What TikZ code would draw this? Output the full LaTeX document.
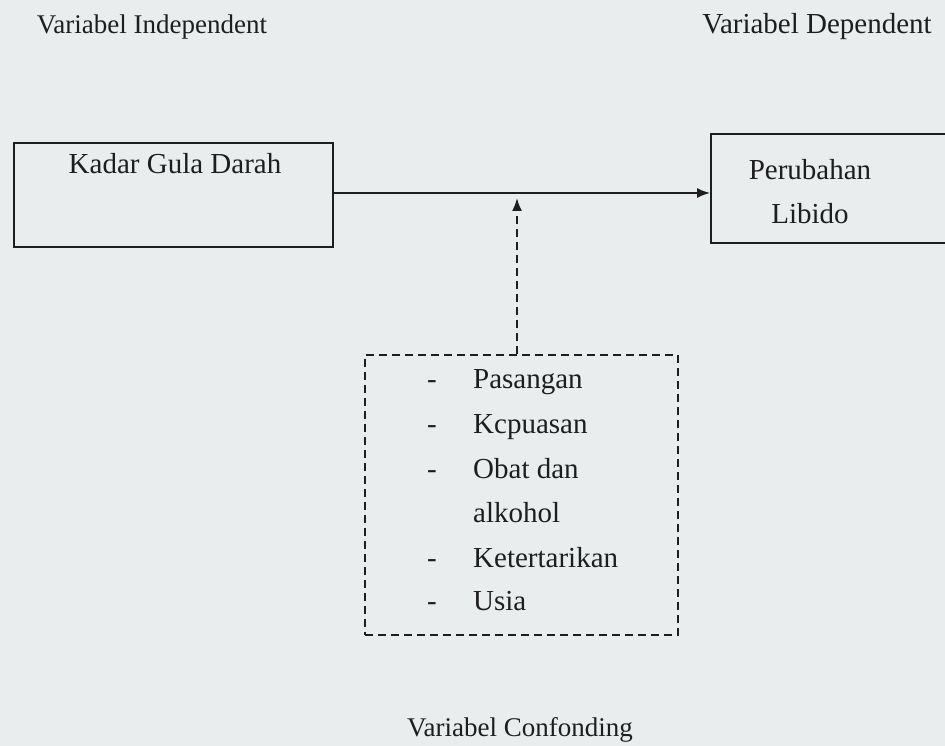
\documentclass[tikz,border=0pt]{standalone}
\usepackage{fontspec}
\setmainfont{Liberation Serif}
\usetikzlibrary{arrows.meta}
\definecolor{bgc}{RGB}{233,237,238}
\definecolor{ink}{RGB}{30,30,30}
\tikzset{
  lbl/.style={font=\fontsize{27}{32}\selectfont, text=ink, inner sep=0pt},
  txt/.style={font=\fontsize{29}{34}\selectfont, text=ink, inner sep=0pt},
  item/.style={txt, anchor=base west},
  dsh/.style={txt, anchor=base},
  solidbox/.style={draw=ink, line width=1.8pt, inner sep=0pt},
  dashbox/.style={draw=ink, line width=1.8pt, dash pattern=on 8pt off 5pt, inner sep=0pt},
  arr/.style={draw=ink, line width=1.8pt, -{Latex[length=13pt,width=10pt]}},
}
\begin{document}
\begin{tikzpicture}[x=1pt,y=-1pt]
\fill[bgc] (0,0) rectangle (945,746);
\useasboundingbox (0,0) rectangle (945,746);
% headers
\node[lbl] (hind) at (152,27) {Variabel Independent};
\node[lbl, font=\fontsize{29}{34}\selectfont] (hdep) at (817,27) {Variabel Dependent};
\node[lbl] (hcon) at (520,730) {Variabel Confonding};
% left box
\node[solidbox, minimum width=319pt, minimum height=104pt] (kgd) at (173.5,195) {};
\node[txt] (kgdt) at (175,164) {Kadar Gula Darah};
% right box (extends past right edge)
\node[solidbox, minimum width=300pt, minimum height=109pt] (lib) at (861,188.5) {};
\node[txt, anchor=base] (libt1) at (810,180) {Perubahan};
\node[txt, anchor=base] (libt2) at (810,223) {Libido};
% confounding box
\node[dashbox, minimum width=313pt, minimum height=280pt] (conf) at (521.5,495) {};
\node[dsh] (d1) at (432,388) {-};
\node[item] (i1) at (473,388) {Pasangan};
\node[dsh] (d2) at (432,433) {-};
\node[item] (i2) at (473,433) {Kcpuasan};
\node[dsh] (d3) at (432,478) {-};
\node[item] (i3) at (473,478) {Obat dan};
\node[item] (i3b) at (473,522) {alkohol};
\node[dsh] (d4) at (432,567) {-};
\node[item] (i4) at (473,567) {Ketertarikan};
\node[dsh] (d5) at (432,610.5) {-};
\node[item] (i5) at (473,610.5) {Usia};
% arrows
\draw[arr] (kgd.east |- 0,193) -- (lib.west |- 0,193);
\coordinate (tip) at (517,198);
\draw[arr, dash pattern=on 8pt off 5pt] (conf.north -| tip) -- (tip);
\end{tikzpicture}
\end{document}
